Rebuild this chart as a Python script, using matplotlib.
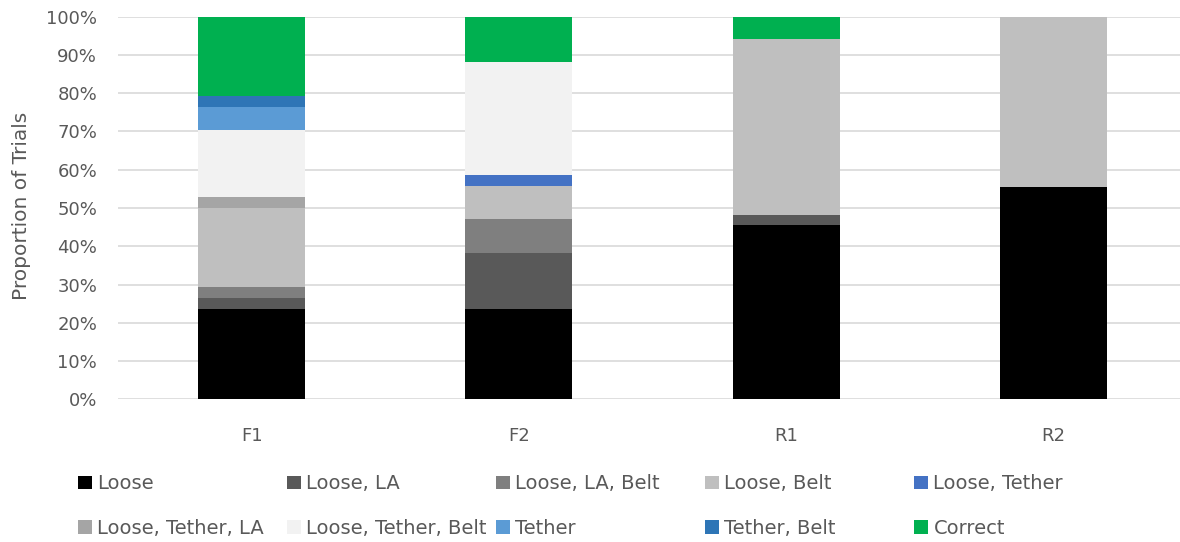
import matplotlib
matplotlib.use("Agg")
import matplotlib.pyplot as plt
import numpy as np
from matplotlib.ticker import PercentFormatter

# positions on the x axis
groups = ["F1", "F2", "R1", "R2"]

# series in stacking order (bottom -> top), values in % of trials
series_names = [
    "Loose", "Loose, LA", "Loose, LA, Belt", "Loose, Belt", "Loose, Tether",
    "Loose, Tether, LA", "Loose, Tether, Belt", "Tether", "Tether, Belt", "Correct",
]
loose = [23.5, 23.5, 45.5, 55.6]
loose_la = [2.9, 14.7, 2.8, 0]
loose_la_belt = [2.9, 8.8, 0, 0]
loose_belt = [20.6, 8.8, 45.9, 44.4]
loose_tether = [0, 2.9, 0, 0]
loose_tether_la = [2.9, 0, 0, 0]
loose_tether_belt = [17.6, 29.4, 0, 0]
tether = [5.9, 0, 0, 0]
tether_belt = [2.9, 0, 0, 0]
correct = [20.8, 11.9, 5.8, 0]

series_vals = [loose, loose_la, loose_la_belt, loose_belt, loose_tether,
               loose_tether_la, loose_tether_belt, tether, tether_belt, correct]
colors = ["#000000", "#595959", "#7f7f7f", "#bfbfbf", "#4472c4",
          "#a5a5a5", "#f2f2f2", "#5b9bd5", "#2e75b6", "#00b050"]

text_col = "#595959"
plt.rcParams["font.family"] = ["DejaVu Sans"]

W, H = 1180, 542
fig = plt.figure(figsize=(W / 100, H / 100), dpi=100)
ax = fig.add_axes([118 / W, 1 - 399.3 / H, 1069 / W, 382.6 / H])

x = np.arange(len(groups))
bottom = np.zeros(len(groups))
handles = []
for name, vals, c in zip(series_names, series_vals, colors):
    v = np.array(vals, dtype=float)
    b = ax.bar(x, v, width=0.40, bottom=bottom, color=c, linewidth=0, label=name, zorder=3)
    handles.append(b)
    bottom += v

ax.set_xlim(-0.5, 3.5)
ax.set_ylim(0, 100)
ax.set_yticks(np.arange(0, 101, 10))
ax.yaxis.set_major_formatter(PercentFormatter(decimals=0))
ax.set_xticks(x)
ax.set_xticklabels(groups)
ax.grid(axis="y", color="#d9d9d9", linewidth=1.2, zorder=0)
for s in ax.spines.values():
    s.set_visible(False)
ax.tick_params(axis="y", length=0, pad=15, labelsize=13, labelcolor=text_col)
ax.tick_params(axis="x", length=0, pad=20, labelsize=13, labelcolor=text_col)

fig.text(22 / W, 1 - 206 / H, "Proportion of Trials", rotation=90, ha="center",
         va="center", fontsize=14.5, color=text_col)

# legend: 5 fixed-width columns, 2 rows
col_x = [78, 287, 496, 705, 914]
for i, cx in enumerate(col_x):
    leg = fig.legend(handles=[handles[i], handles[i + 5]],
                     labels=[series_names[i], series_names[i + 5]],
                     loc="center left", bbox_to_anchor=(cx / W, 1 - 506 / H),
                     frameon=False, fontsize=14, borderpad=0, borderaxespad=0,
                     handlelength=0.7, handleheight=0.7, handletextpad=0.3,
                     labelspacing=1.3)
    for t in leg.get_texts():
        t.set_color(text_col)

fig.savefig("out.png", dpi=100)
